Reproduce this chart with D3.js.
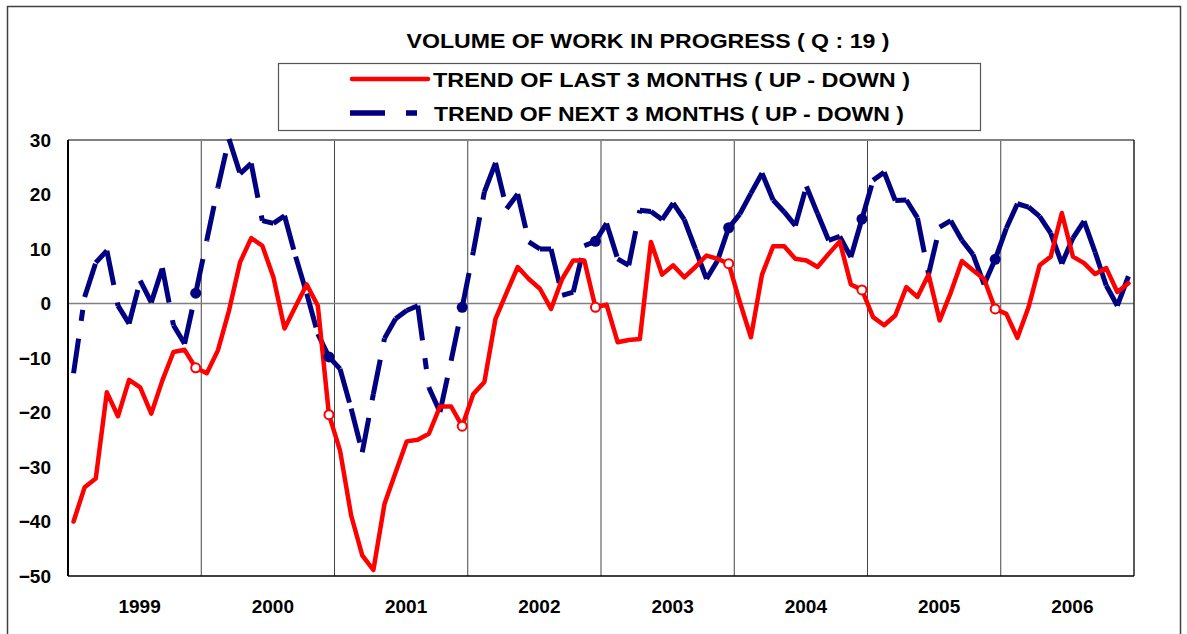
<!DOCTYPE html>
<html>
<head>
<meta charset="utf-8">
<script src="https://cdn.jsdelivr.net/npm/d3@7"></script>
<style>
  html, body { margin: 0; padding: 0; background: #fff; }
  svg { display: block; }
  text { font-family: "Liberation Sans", Arial, sans-serif; font-weight: bold; fill: #000; }
</style>
</head>
<body>
<svg id="chart" width="1187" height="634"></svg>
<script>
// ---- data ----
const years = ["1999", "2000", "2001", "2002", "2003", "2004", "2005", "2006"];
const yTicks = [30, 20, 10, 0, -10, -20, -30, -40, -50];
const titleText = "VOLUME OF WORK IN PROGRESS  ( Q : 19 )";
const seriesNames = ["TREND OF LAST 3 MONTHS ( UP - DOWN  )", "TREND OF NEXT 3 MONTHS ( UP - DOWN )"];
const lastTrend = [
  -40, -33.7, -32.1, -16.3, -20.7, -14.0, -15.4, -20.2, -14.1, -8.9, -8.5, -11.8,
  -12.8, -8.6, -1.3, 7.6, 12.0, 10.6, 4.8, -4.6, -0.5, 3.5, -0.4, -20.4,
  -27.0, -38.9, -46.2, -48.9, -36.8, -31.0, -25.3, -25.0, -23.9, -18.9, -18.9, -22.5,
  -16.6, -14.4, -2.8, 2.0, 6.7, 4.5, 2.7, -1.0, 4.5, 7.9, 7.9, -0.7,
  -0.2, -7.1, -6.7, -6.5, 11.3, 5.3, 7.0, 4.8, 6.7, 8.8, 8.2, 7.3,
  0.3, -6.2, 5.3, 10.5, 10.5, 8.2, 7.9, 6.7, 9.1, 11.4, 3.5, 2.5,
  -2.5, -4.0, -2.2, 3.0, 1.2, 5.3, -3.1, 2.0, 7.8, 6.1, 4.5, -1.0,
  -1.9, -6.3, -0.7, 7.0, 8.6, 16.6, 8.6, 7.4, 5.4, 6.5, 2.1, 3.7
];
const nextTrend = [
  -12.8, 1.2, 7.5, 9.7, -0.4, -3.7, 4.2, 0.2, 6.5, -4.0, -7.4, 1.9,
  11.6, 21.3, 30.2, 23.8, 25.7, 15.2, 14.7, 16.1, 8.6, 1.8, -5.6, -9.8,
  -12.0, -19.3, -27.3, -16.6, -6.4, -2.8, -1.3, -0.4, -15.4, -19.9, -10.5, -0.7,
  9.5, 20.5, 25.8, 17.4, 20.1, 11.3, 10.0, 10.0, 1.5, 2.1, 10.6, 11.4,
  14.7, 8.2, 7.0, 17.1, 16.9, 15.4, 18.4, 15.4, 10.0, 4.5, 7.9, 13.9,
  16.4, 20.2, 23.9, 19.0, 16.8, 14.3, 21.5, 16.5, 11.6, 12.3, 8.5, 15.5,
  22.6, 24.1, 18.9, 19.0, 15.7, 5.4, 14.0, 15.2, 11.6, 9.0, 3.5, 8.1,
  13.8, 18.3, 17.7, 16.0, 12.9, 7.3, 12.0, 15.1, 9.4, 3.3, -0.4, 5.0
];
const markerIdx = [11, 23, 35, 47, 59, 71, 83];

// ---- layout ----
const svg = d3.select("#chart");
const L = 68, R = 1134, T = 140, B = 576;
const RED = "#ff0000", BLUE = "#000080";

const x = d3.scaleLinear().domain([0, lastTrend.length]).range([L, R]);
const y = d3.scaleLinear().domain([-50, 30]).range([B, T]);
const xi = i => x(i + 0.5);

// outer frame
svg.append("rect").attr("x", 7.5).attr("y", 6.5).attr("width", 1173).attr("height", 700)
  .attr("fill", "none").attr("stroke", "#404040").attr("stroke-width", 1.5);

// title
svg.append("text").attr("x", 648).attr("y", 48).attr("text-anchor", "middle")
  .attr("font-size", 21).attr("textLength", 483).attr("lengthAdjust", "spacingAndGlyphs")
  .text(titleText);

// legend box
svg.append("rect").attr("x", 278.5).attr("y", 63.5).attr("width", 702).attr("height", 67)
  .attr("fill", "#fff").attr("stroke", "#555").attr("stroke-width", 1.2);
svg.append("line").attr("x1", 352).attr("x2", 428).attr("y1", 79).attr("y2", 79)
  .attr("stroke", RED).attr("stroke-width", 4.5).attr("stroke-linecap", "round");
svg.append("line").attr("x1", 350).attr("x2", 417).attr("y1", 113).attr("y2", 113)
  .attr("stroke", BLUE).attr("stroke-width", 5.5).attr("stroke-dasharray", "35,21,11,40");
svg.append("text").attr("x", 433).attr("y", 86.5).attr("font-size", 21)
  .attr("textLength", 477).attr("lengthAdjust", "spacingAndGlyphs").text(seriesNames[0]);
svg.append("text").attr("x", 434).attr("y", 120.5).attr("font-size", 21)
  .attr("textLength", 470).attr("lengthAdjust", "spacingAndGlyphs").text(seriesNames[1]);

// plot area
svg.append("rect").attr("x", L).attr("y", T).attr("width", R - L).attr("height", B - T).attr("fill", "#fff");
// year separators
const sep = d3.range(1, years.length).map(k => k * 12);
svg.append("g").selectAll("line").data(sep).join("line")
  .attr("x1", d => x(d)).attr("x2", d => x(d)).attr("y1", T).attr("y2", B)
  .attr("stroke", "#444").attr("stroke-width", 1);
// zero line
svg.append("line").attr("x1", L).attr("x2", R).attr("y1", y(0)).attr("y2", y(0))
  .attr("stroke", "#808080").attr("stroke-width", 1.5);
// borders
svg.append("line").attr("x1", L).attr("x2", R).attr("y1", T).attr("y2", T).attr("stroke", "#808080").attr("stroke-width", 2);
svg.append("line").attr("x1", R).attr("x2", R).attr("y1", T).attr("y2", B).attr("stroke", "#222").attr("stroke-width", 1.5);
svg.append("line").attr("x1", L).attr("x2", R).attr("y1", B).attr("y2", B).attr("stroke", "#000").attr("stroke-width", 1.5);
svg.append("line").attr("x1", L).attr("x2", L).attr("y1", T).attr("y2", B).attr("stroke", "#000").attr("stroke-width", 2);

// y axis labels
const yAxis = d3.axisLeft(y).tickValues(yTicks).tickSize(0).tickPadding(0).tickFormat(d3.format("d"));
const gy = svg.append("g").attr("transform", `translate(51,0)`).call(yAxis);
gy.select(".domain").remove();
gy.selectAll("text").attr("font-size", 19).attr("font-family", "Liberation Sans, Arial, sans-serif")
  .attr("font-weight", "bold").attr("fill", "#000");

// x axis year labels
const xYear = d3.scaleBand().domain(years).range([L, R]);
const xAxis = d3.axisBottom(xYear).tickSize(0).tickPadding(0);
const gx = svg.append("g").attr("transform", `translate(5,${B + 23})`).call(xAxis);
gx.select(".domain").remove();
gx.selectAll("text").attr("font-size", 19).attr("font-family", "Liberation Sans, Arial, sans-serif")
  .attr("font-weight", "bold").attr("fill", "#000");

// blue series: each segment dashed separately (dash restarts per segment)
const segs = d3.range(nextTrend.length - 1).map(i => [i, nextTrend[i], nextTrend[i + 1]]);
svg.append("g").selectAll("line").data(segs).join("line")
  .attr("x1", d => xi(d[0])).attr("y1", d => y(d[1]))
  .attr("x2", d => xi(d[0] + 1)).attr("y2", d => y(d[2]))
  .attr("stroke", BLUE).attr("stroke-width", 5).attr("stroke-dasharray", "35,18,11,18");

// red series
const line = d3.line().x((d, i) => xi(i)).y(d => y(d));
svg.append("path").datum(lastTrend).attr("d", line)
  .attr("fill", "none").attr("stroke", RED).attr("stroke-width", 4.5)
  .attr("stroke-linejoin", "round").attr("stroke-linecap", "round");

// markers
svg.append("g").selectAll("circle").data(markerIdx).join("circle")
  .attr("cx", d => xi(d)).attr("cy", d => y(nextTrend[d])).attr("r", 5.5).attr("fill", BLUE);
svg.append("g").selectAll("circle").data(markerIdx).join("circle")
  .attr("cx", d => xi(d)).attr("cy", d => y(lastTrend[d])).attr("r", 4.5)
  .attr("fill", "#fff").attr("stroke", RED).attr("stroke-width", 2);
</script>
</body>
</html>
